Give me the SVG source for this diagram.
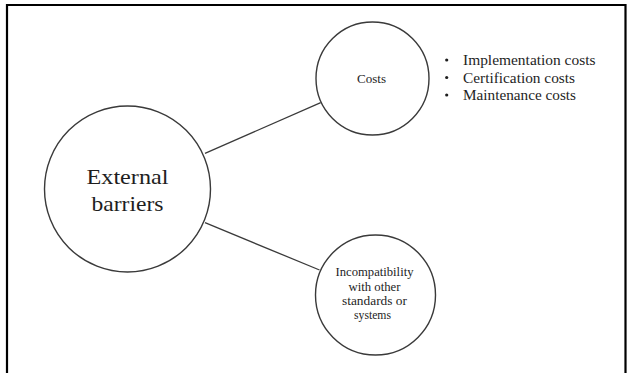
<svg xmlns="http://www.w3.org/2000/svg" width="627" height="373" viewBox="0 0 627 373">
  <style>
    .node { fill: #ffffff; stroke: #3a3a3a; stroke-width: 1.4; }
    .edge { stroke: #3a3a3a; stroke-width: 1.3; fill: none; }
    .serif { font-family: 'Liberation Serif', 'DejaVu Serif', serif; fill: #1e1e1e; }
    .label { text-anchor: middle; }
    .list { font-size: 15px; }
    .frame { stroke: #000000; stroke-width: 2.2; fill: none; }
  </style>
  <rect width="627" height="373" fill="#ffffff"/>
  <!-- outer frame: top, left and right edges -->
  <path class="frame" d="M7,373 V5 H625.5 V373"/>

  <!-- connectors -->
  <g id="connectors">
    <line class="edge" x1="205" y1="153.3" x2="320.7" y2="102.7"/>
    <line class="edge" x1="205" y1="222.7" x2="319.5" y2="270"/>
  </g>

  <g id="external-barriers">
    <circle class="node" cx="127.5" cy="189" r="83"/>
    <text class="serif label" x="127.5" y="184" font-size="21.5" textLength="82" lengthAdjust="spacingAndGlyphs">External</text>
    <text class="serif label" x="127.5" y="211" font-size="21.5" textLength="72" lengthAdjust="spacingAndGlyphs">barriers</text>
  </g>

  <g id="costs">
    <circle class="node" cx="372.5" cy="78.5" r="56.5"/>
    <text class="serif label" x="371.5" y="83" font-size="12.5" textLength="29" lengthAdjust="spacingAndGlyphs">Costs</text>
  </g>

  <g id="cost-items">
    <circle cx="446.7" cy="60" r="1.6" fill="#1e1e1e"/>
    <circle cx="446.7" cy="77.5" r="1.6" fill="#1e1e1e"/>
    <circle cx="446.7" cy="95" r="1.6" fill="#1e1e1e"/>
    <text class="serif list" x="463" y="65" textLength="132.5" lengthAdjust="spacingAndGlyphs">Implementation costs</text>
    <text class="serif list" x="463" y="82.5" textLength="112" lengthAdjust="spacingAndGlyphs">Certification costs</text>
    <text class="serif list" x="463" y="100" textLength="113" lengthAdjust="spacingAndGlyphs">Maintenance costs</text>
  </g>

  <g id="incompatibility">
    <circle class="node" cx="375.5" cy="295" r="60"/>
    <text class="serif label" x="374.5" y="276" font-size="12.5" textLength="78" lengthAdjust="spacingAndGlyphs">Incompatibility</text>
    <text class="serif label" x="374.5" y="290.5" font-size="12.5" textLength="52" lengthAdjust="spacingAndGlyphs">with other</text>
    <text class="serif label" x="374.5" y="305" font-size="12.5" textLength="65" lengthAdjust="spacingAndGlyphs">standards or</text>
    <text class="serif label" x="372.5" y="319" font-size="12.5" textLength="37" lengthAdjust="spacingAndGlyphs">systems</text>
  </g>
</svg>
